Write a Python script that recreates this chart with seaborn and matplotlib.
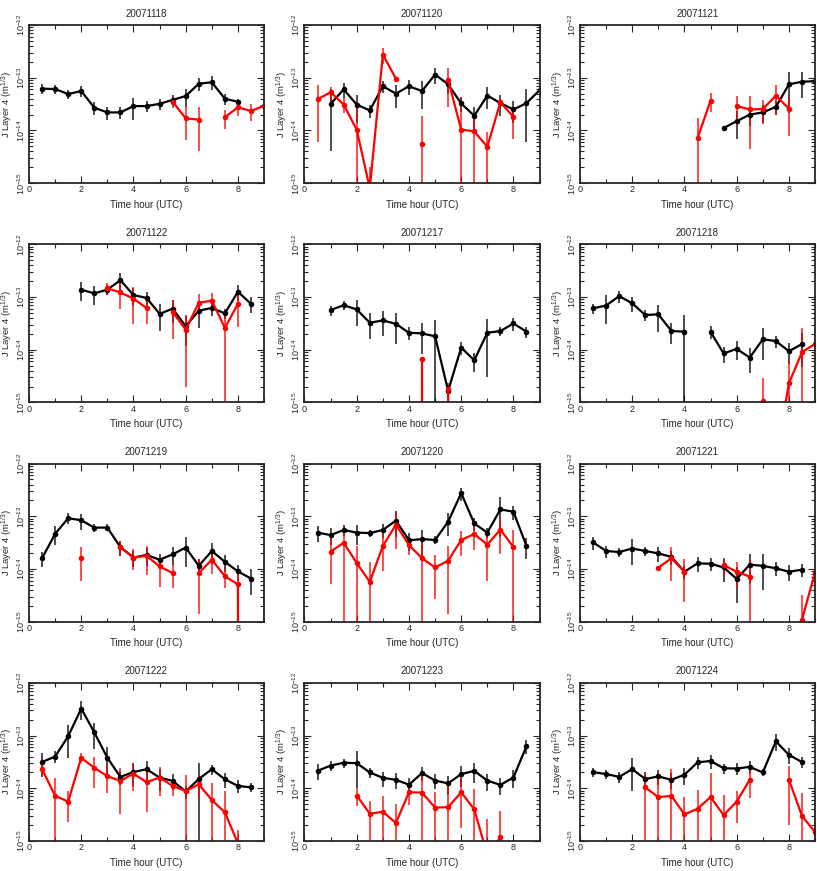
import numpy as np
import pandas as pd
import seaborn as sns
import matplotlib
matplotlib.use("Agg")
import matplotlib.pyplot as plt
from matplotlib.ticker import MultipleLocator

N = np.nan

hours = [0.5, 1.0, 1.5, 2.0, 2.5, 3.0, 3.5, 4.0, 4.5,
         5.0, 5.5, 6.0, 6.5, 7.0, 7.5, 8.0, 8.5, 9.0]

dates = ["20071118", "20071120", "20071121", "20071122", "20071217", "20071218",
         "20071219", "20071220", "20071221", "20071222", "20071223", "20071224"]

# J layer 4 values and errors, in units of 1e-14 m^(1/3); NaN = no data
j1118_black = [6.2, 6.1, 4.9, 5.6, 2.7, 2.2, 2.2, 2.9, 2.9, 3.2, 3.8, 4.5, 7.7, 8.2, 4.0, 3.5, N, N]
e1118_black = [1.3, 1.2, 0.9, 1.3, 0.7, 0.6, 0.55, 1.3, 0.65, 0.8, 0.9, 1.7, 2.2, 2.4, 1.0, 0.5, N, N]
j1118_red = [N, N, N, N, N, N, N, N, N, N, 3.5, 1.7, 1.6, N, 1.78, 2.75, 2.34, 2.94]
e1118_red = [N, N, N, N, N, N, N, N, N, N, 0.8, 1.05, 1.2, N, 0.7, 0.9, 0.8, 0.8]

j1120_black = [N, 3.2, 6.0, 3.1, 2.4, 6.9, 5.0, 6.9, 5.6, 11.5, 7.5, 3.25, 1.9, 4.6, 3.3, 2.5, 3.3, 5.8]
e1120_black = [N, 2.8, 1.8, 1.7, 0.65, 1.8, 2.3, 2.2, 3.1, 3.9, 2.5, 1.0, 0.9, 2.1, 1.4, 1.1, 2.7, 1.5]
j1120_red = [3.9, 5.3, 3.1, 1.03, 0.08, 27.5, 9.6, N, 0.55, N, 9.1, 1.04, 0.96, 0.49, 3.45, 1.8, N, N]
e1120_red = [3.3, 1.5, 1.0, 2.6, 0.12, 9.5, 0.5, N, 1.35, N, 6.3, 3.1, 0.95, 0.45, 0.5, 1.1, N, N]

j1121_black = [N, N, N, N, N, N, N, N, N, N, 1.11, 1.5, 2.0, 2.2, 2.8, 7.5, 8.4, 8.6]
e1121_black = [N, N, N, N, N, N, N, N, N, N, 0.1, 0.8, 0.8, 0.8, 0.8, 5.4, 4.2, 1.5]
j1121_red = [N, N, N, N, N, N, N, N, 0.71, 3.7, N, 2.9, 2.5, 2.55, 4.55, 2.6, N, N]
e1121_red = [N, N, N, N, N, N, N, N, 1.0, 1.5, N, 1.65, 2.05, 1.2, 2.6, 1.8, N, N]

j1122_black = [N, N, N, 13.8, 11.7, 13.8, 20.8, 10.9, 9.6, 4.8, 6.0, 2.8, 5.5, 6.2, 4.9, 12.6, 7.4, N]
e1122_black = [N, N, N, 5.4, 4.5, 3.0, 7.4, 4.1, 2.9, 2.5, 2.8, 1.6, 2.9, 1.8, 1.0, 4.1, 2.5, N]
j1122_red = [N, N, N, N, N, 14.6, 12.2, 9.3, 6.2, N, 5.2, 2.4, 7.8, 8.5, 2.6, 7.4, N, N]
e1122_red = [N, N, N, N, N, 3.5, 6.4, 6.2, 3.1, N, 3.6, 2.2, 3.4, 3.2, 2.5, 4.7, N, N]

j1217_black = [N, 5.65, 7.0, 5.8, 3.25, 3.6, 3.1, 2.1, 2.04, 1.8, 0.166, 1.1, 0.63, 2.1, 2.26, 3.15, 2.2, N]
e1217_black = [N, 1.25, 1.3, 3.0, 1.65, 1.8, 1.8, 0.6, 1.2, 1.8, 0.05, 0.3, 0.25, 1.8, 0.4, 0.9, 0.5, N]
j1217_red = [N, N, N, N, N, N, N, N, 0.68, 0.0, 0.18, N, N, N, N, N, N, N]
e1217_red = [N, N, N, N, N, N, N, N, 0.0, 0.0, 0.05, N, N, N, N, N, N, N]

j1218_black = [6.1, 6.9, 10.4, 7.6, 4.55, 4.7, 2.27, 2.2, N, 2.18, 0.85, 1.04, 0.71, 1.58, 1.46, 0.94, 1.28, N]
e1218_black = [1.3, 3.8, 2.6, 2.4, 1.0, 2.5, 1.0, 2.3, N, 0.6, 0.3, 0.4, 0.35, 0.95, 0.4, 0.4, 0.8, N]
j1218_red = [N, N, N, N, N, N, N, N, N, N, N, N, N, 0.107, 0.009, 0.23, 0.9, 1.29]
e1218_red = [N, N, N, N, N, N, N, N, N, N, N, N, N, 0.18, 0.0, 0.37, 1.7, 1.4]

j1219_black = [1.6, 4.65, 9.2, 8.4, 6.1, 6.1, 2.6, 1.65, 1.85, 1.5, 1.9, 2.55, 1.15, 2.2, 1.37, 0.9, 0.66, N]
e1219_black = [0.5, 1.85, 2.2, 2.8, 1.0, 0.9, 0.8, 0.55, 0.7, 0.4, 0.7, 1.45, 0.4, 0.95, 0.5, 0.3, 0.34, N]
j1219_red = [N, N, N, 1.6, N, N, 2.6, 1.65, 1.78, 1.12, 0.84, N, 0.84, 1.5, 0.73, 0.51, 0.0, 0.0]
e1219_red = [N, N, N, 1.0, N, N, 0.8, 0.7, 1.0, 0.66, 0.4, N, 0.7, 0.7, 0.3, 0.5, 0.0, 0.42]

j1220_black = [4.9, 4.4, 5.5, 4.9, 4.8, 5.5, 8.3, 3.5, 3.7, 3.55, 7.9, 27.5, 7.3, 4.9, 13.5, 12.2, 2.73, N]
e1220_black = [1.6, 1.6, 1.3, 2.0, 0.8, 1.6, 4.2, 1.3, 1.9, 0.6, 3.6, 7.6, 2.0, 1.0, 9.5, 3.6, 1.15, N]
j1220_red = [N, 2.13, 3.15, 1.3, 0.57, 2.73, 6.95, 2.85, 1.6, 1.07, 1.44, 3.55, 4.6, 2.9, 5.6, 2.6, N, N]
e1220_red = [N, 1.6, 3.3, 1.4, 0.8, 1.8, 4.5, 1.0, 1.95, 0.8, 1.3, 1.8, 2.3, 2.3, 3.7, 3.0, N, N]

j1221_black = [3.2, 2.2, 2.1, 2.45, 2.2, 1.98, 1.7, 0.89, 1.28, 1.26, 1.07, 0.65, 1.21, 1.15, 1.03, 0.89, 0.97, N]
e1221_black = [0.9, 0.55, 0.4, 1.25, 0.4, 0.65, 0.5, 0.25, 0.4, 0.35, 0.5, 0.42, 0.7, 0.75, 0.3, 0.3, 0.25, N]
j1221_red = [N, N, N, N, N, 1.06, 1.6, 0.89, N, N, 1.19, 0.89, 0.72, N, N, N, 0.109, 0.87]
e1221_red = [N, N, N, N, N, 0.1, 1.0, 0.65, N, N, 0.45, 0.45, 0.75, N, N, N, 0.21, 0.5]

j1222_black = [3.15, 4.0, 9.7, 32.5, 11.5, 3.8, 1.64, 2.04, 2.3, 1.6, 1.38, 0.87, 1.5, 2.3, 1.48, 1.11, 1.04, N]
e1222_black = [1.5, 1.0, 6.0, 12.5, 5.9, 2.2, 0.5, 0.95, 1.0, 0.7, 0.45, 0.25, 1.5, 0.5, 0.45, 0.3, 0.2, N]
j1222_red = [2.3, 0.72, 0.56, 3.8, 2.45, 1.7, 1.38, 1.9, 1.31, 1.6, 1.11, 0.89, 1.19, 0.6, 0.35, 0.09, N, N]
e1222_red = [0.5, 0.86, 0.33, 0.8, 1.45, 0.9, 1.05, 1.0, 0.95, 0.9, 0.4, 0.9, 0.5, 0.68, 0.54, 0.07, N, N]

j1223_black = [2.14, 2.7, 3.05, 3.0, 2.0, 1.58, 1.45, 1.17, 1.95, 1.4, 1.24, 1.86, 2.14, 1.4, 1.16, 1.6, 6.3, N]
e1223_black = [0.7, 0.6, 0.6, 2.0, 0.4, 0.5, 0.5, 0.4, 0.6, 0.45, 0.5, 0.8, 0.9, 0.5, 0.4, 0.6, 1.8, N]
j1223_red = [N, N, N, 0.73, 0.33, 0.36, 0.22, 0.84, 0.83, 0.43, 0.44, 0.84, 0.40, 0.054, 0.118, N, N, N]
e1223_red = [N, N, N, 0.27, 0.24, 0.37, 0.28, 0.35, 1.0, 0.41, 0.76, 0.66, 0.57, 0.21, 0.26, N, N, N]

j1224_black = [2.03, 1.86, 1.65, 2.3, 1.5, 1.68, 1.45, 1.81, 3.1, 3.3, 2.4, 2.37, 2.55, 2.0, 7.8, 4.3, 3.15, N]
e1224_black = [0.4, 0.35, 0.4, 1.4, 0.5, 0.5, 0.5, 0.65, 0.8, 1.0, 0.5, 0.6, 0.7, 0.3, 2.8, 1.4, 0.7, N]
j1224_red = [N, N, N, N, 1.04, 0.68, 0.72, 0.32, 0.41, 0.68, 0.31, 0.56, 1.45, N, N, 1.45, 0.3, 0.148]
e1224_red = [N, N, N, N, 0.95, 1.3, 1.6, 0.36, 0.5, 1.3, 0.45, 0.34, 0.8, N, N, 1.25, 0.53, 0.4]

panels = [
    (j1118_black, e1118_black, j1118_red, e1118_red),
    (j1120_black, e1120_black, j1120_red, e1120_red),
    (j1121_black, e1121_black, j1121_red, e1121_red),
    (j1122_black, e1122_black, j1122_red, e1122_red),
    (j1217_black, e1217_black, j1217_red, e1217_red),
    (j1218_black, e1218_black, j1218_red, e1218_red),
    (j1219_black, e1219_black, j1219_red, e1219_red),
    (j1220_black, e1220_black, j1220_red, e1220_red),
    (j1221_black, e1221_black, j1221_red, e1221_red),
    (j1222_black, e1222_black, j1222_red, e1222_red),
    (j1223_black, e1223_black, j1223_red, e1223_red),
    (j1224_black, e1224_black, j1224_red, e1224_red),
]

colors = {"black": "#000000", "red": "#ff0000"}

sns.set_style("ticks", {"xtick.direction": "in", "ytick.direction": "in"})
plt.rcParams["font.family"] = ["Liberation Sans", "DejaVu Sans"]
plt.rcParams["mathtext.default"] = "regular"

fig, axes = plt.subplots(4, 3, figsize=(8.17, 8.71), dpi=100)
fig.subplots_adjust(left=0.0355, right=0.9976, bottom=0.0344, top=0.9713,
                    wspace=0.172, hspace=0.386)

for ax, date, (jb, eb, jr, er) in zip(axes.flat, dates, panels):
    frames = []
    for name, j, e in [("black", jb, eb), ("red", jr, er)]:
        d = pd.DataFrame({"hour": hours,
                          "J": np.array(j) * 1e-14,
                          "err": np.array(e) * 1e-14})
        d["series"] = name
        d["seg"] = d["J"].isna().cumsum()
        frames.append(d)
    df = pd.concat(frames, ignore_index=True).dropna(subset=["J"])
    df["unit"] = df["series"] + df["seg"].astype(str)

    # error bars first, lines with markers on top
    for name in ["black", "red"]:
        d = df[df["series"] == name]
        ax.errorbar(d["hour"], d["J"], yerr=d["err"], fmt="none",
                    ecolor=colors[name], elinewidth=1.4, alpha=0.7, zorder=1)
    sns.lineplot(data=df, x="hour", y="J", hue="series", hue_order=["black", "red"],
                 units="unit", estimator=None, sort=False, palette=colors,
                 marker="o", markersize=4, markeredgewidth=0, linewidth=1.6,
                 legend=False, ax=ax)

    ax.set_yscale("log")
    ax.set_ylim(1e-15, 1e-12)
    ax.set_xlim(0, 9)
    ax.set_xticks([0, 2, 4, 6, 8])
    ax.xaxis.set_minor_locator(MultipleLocator(1))
    ax.set_yticks([1e-15, 1e-14, 1e-13, 1e-12])
    ax.set_yticklabels([r"10$^{-15}$", r"10$^{-14}$", r"10$^{-13}$", r"10$^{-12}$"],
                       rotation=90, va="center")
    ax.tick_params(which="both", direction="in", top=True, right=True,
                   labelsize=6.5, width=0.8, pad=1.5)
    ax.tick_params(which="major", length=5)
    ax.tick_params(which="minor", length=3)
    for sp in ax.spines.values():
        sp.set_linewidth(1.3)
        sp.set_visible(True)
    ax.set_title(date, fontsize=7, pad=6)
    ax.set_xlabel("Time hour (UTC)", fontsize=7, labelpad=4)
    ax.set_ylabel("J Layer 4 (m$^{1/3}$)", fontsize=6.8)
    ax.yaxis.set_label_coords(-0.064, 0.5)

fig.savefig("out.png", dpi=100)
